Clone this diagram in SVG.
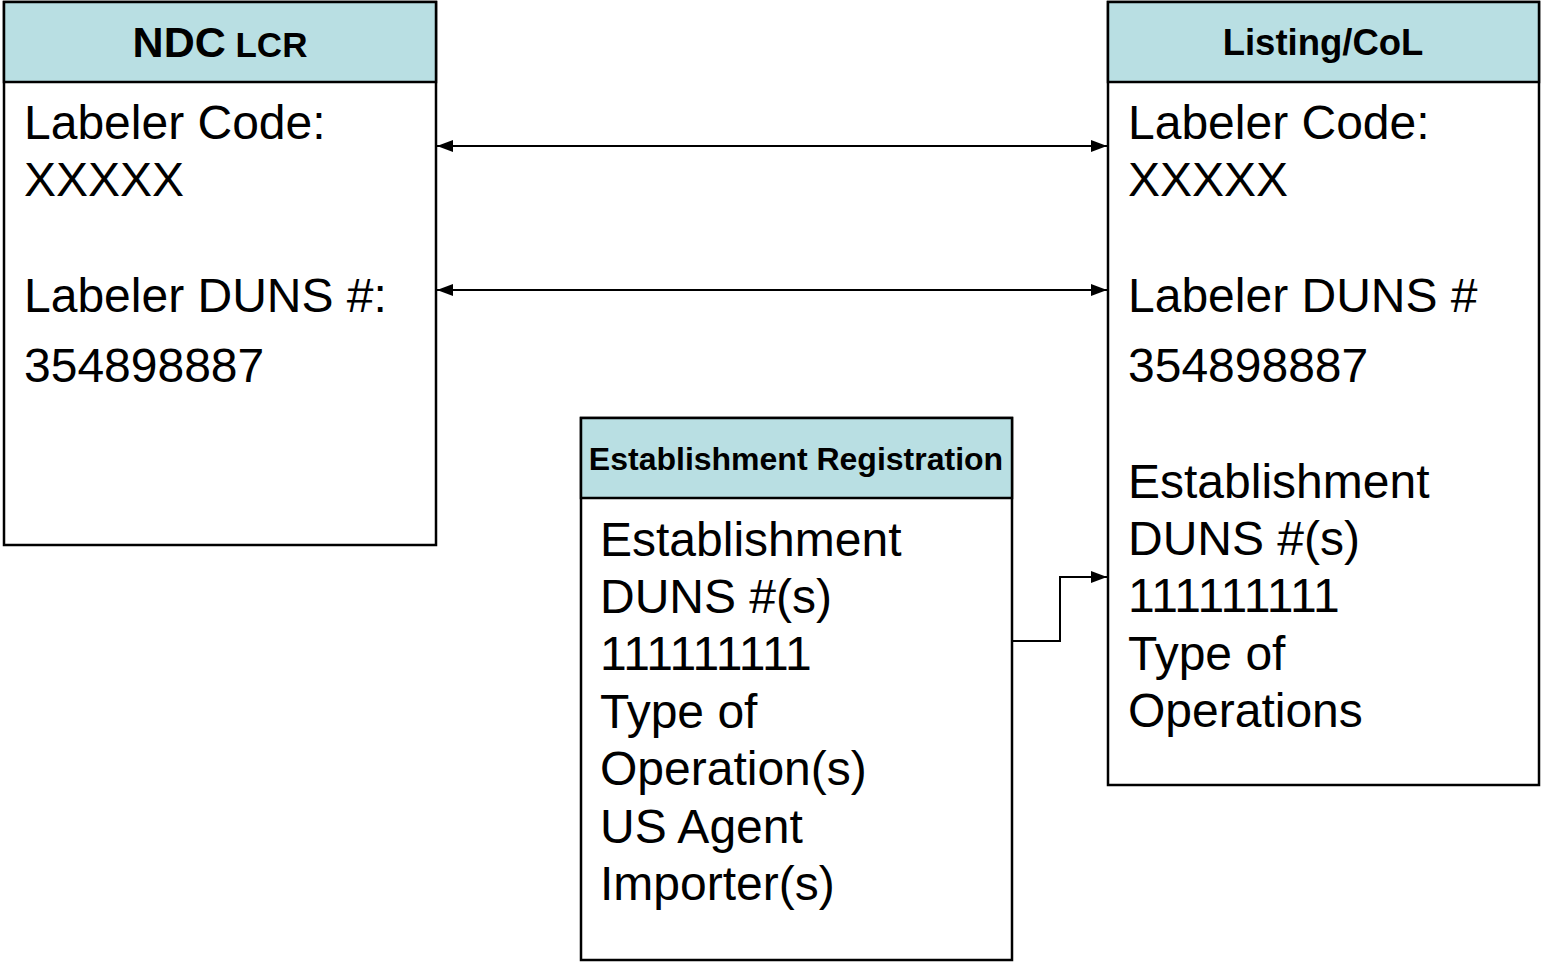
<svg xmlns="http://www.w3.org/2000/svg" width="1541" height="962" viewBox="0 0 1541 962">
  <style>
    .box { fill: #ffffff; stroke: #000000; stroke-width: 2.5; }
    .head { fill: #b9dfe3; stroke: #000000; stroke-width: 2.5; }
    .title { font-family: "Liberation Sans", Arial, sans-serif; font-weight: bold; fill: #000000; text-anchor: middle; }
    .body { font-family: "Liberation Sans", Arial, sans-serif; font-size: 48px; fill: #000000; }
    .link { fill: none; stroke: #000000; stroke-width: 2; }
  </style>
  <defs>
    <marker id="head" viewBox="0 0 16 12" refX="16" refY="6" markerWidth="16" markerHeight="12" markerUnits="userSpaceOnUse" orient="auto-start-reverse">
      <path d="M0,0 L16,6 L0,12 z" fill="#000000"/>
    </marker>
  </defs>
  <rect width="1541" height="962" fill="#ffffff"/>

  <!-- NDC LCR -->
  <g id="ndc-lcr">
    <rect class="box" x="4" y="2" width="432" height="543"/>
    <rect class="head" x="4" y="2" width="432" height="80"/>
    <text class="title" x="220" y="57"><tspan font-size="43">NDC</tspan><tspan font-size="35"> LCR</tspan></text>
    <text class="body" x="24" y="139">Labeler Code:</text>
    <text class="body" x="24" y="196">XXXXX</text>
    <text class="body" x="24" y="312">Labeler DUNS #:</text>
    <text class="body" x="24" y="382">354898887</text>
  </g>

  <!-- Listing/CoL -->
  <g id="listing-col">
    <rect class="box" x="1108" y="2" width="431" height="783"/>
    <rect class="head" x="1108" y="2" width="431" height="80"/>
    <text class="title" x="1323" y="55" font-size="36.5">Listing/CoL</text>
    <text class="body" x="1128" y="139">Labeler Code:</text>
    <text class="body" x="1128" y="196">XXXXX</text>
    <text class="body" x="1128" y="312">Labeler DUNS #</text>
    <text class="body" x="1128" y="382">354898887</text>
    <text class="body" x="1128" y="498">Establishment</text>
    <text class="body" x="1128" y="555">DUNS #(s)</text>
    <text class="body" x="1128" y="612">111111111</text>
    <text class="body" x="1128" y="670">Type of</text>
    <text class="body" x="1128" y="727">Operations</text>
  </g>

  <!-- Establishment Registration -->
  <g id="establishment-registration">
    <rect class="box" x="581" y="418" width="431" height="542"/>
    <rect class="head" x="581" y="418" width="431" height="80"/>
    <text class="title" x="796" y="470" font-size="32">Establishment Registration</text>
    <text class="body" x="600" y="556">Establishment</text>
    <text class="body" x="600" y="613">DUNS #(s)</text>
    <text class="body" x="600" y="670">111111111</text>
    <text class="body" x="600" y="728">Type of</text>
    <text class="body" x="600" y="785">Operation(s)</text>
    <text class="body" x="600" y="843">US Agent</text>
    <text class="body" x="600" y="900">Importer(s)</text>
  </g>

  <!-- connectors -->
  <g id="connectors">
    <line class="link" x1="437" y1="146" x2="1107" y2="146" marker-start="url(#head)" marker-end="url(#head)"/>
    <line class="link" x1="437" y1="290" x2="1107" y2="290" marker-start="url(#head)" marker-end="url(#head)"/>
    <polyline class="link" points="1013,641 1060,641 1060,577 1107,577" marker-end="url(#head)"/>
  </g>
</svg>
